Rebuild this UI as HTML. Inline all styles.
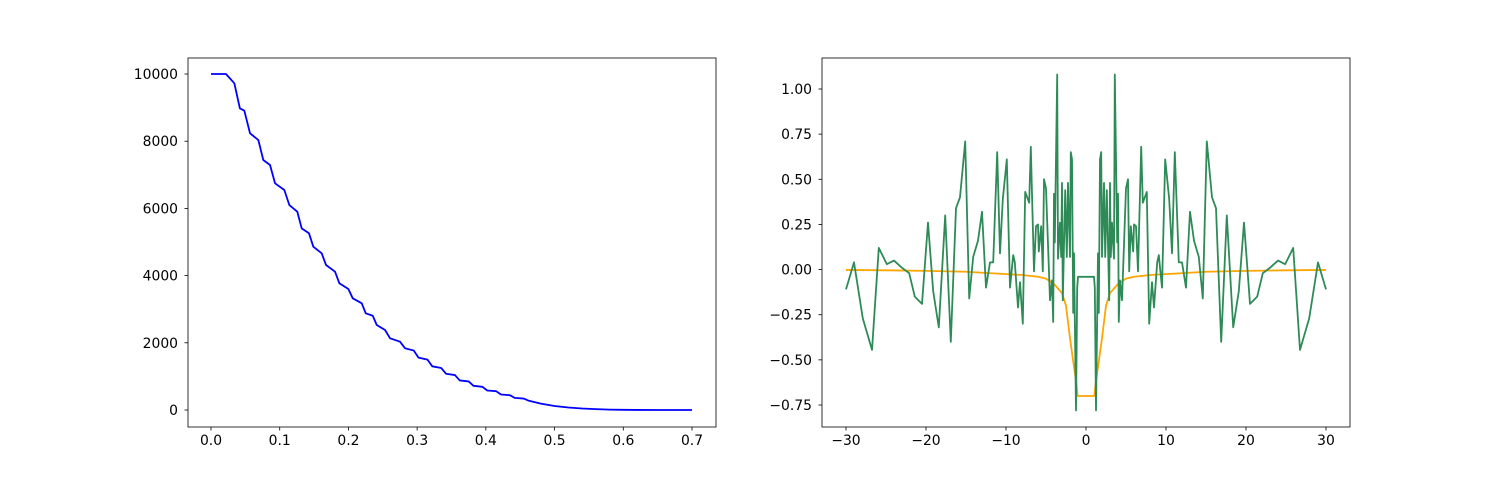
<!DOCTYPE html>
<html><head><meta charset="utf-8"><style>
body{margin:0;background:#fff}svg{display:block}
text{font-family:"DejaVu Sans","Liberation Sans",sans-serif;font-size:13.9px;fill:#000}
</style></head><body>
<svg id="fig" width="1500" height="480"></svg>
<script>
// Left chart data
const leftX=[0,0.0218,0.034,0.042,0.0485,0.0568,0.0689,0.0761,0.0859,0.0932,0.1067,0.114,0.1256,0.132,0.1426,0.1489,0.1611,0.1674,0.1805,0.1868,0.1999,0.2063,0.2194,0.2252,0.2354,0.2412,0.2533,0.2606,0.2751,0.2824,0.295,0.302,0.315,0.322,0.335,0.342,0.355,0.362,0.375,0.382,0.395,0.402,0.415,0.422,0.435,0.442,0.455,0.462,0.48,0.5,0.52,0.54,0.56,0.58,0.6,0.62,0.65,0.7];
const leftY=[10000,10000,9723,8979,8907,8235,8035,7440,7291,6747,6547,6101,5901,5407,5259,4860,4663,4315,4116,3771,3601,3324,3175,2878,2806,2530,2381,2134,2033,1836,1770,1560,1500,1300,1250,1080,1040,880,850,720,690,580,560,460,440,360,340,280,190,120,75,45,25,12,5,2,0,0];
const leftXTicks=[0,0.1,0.2,0.3,0.4,0.5,0.6,0.7];
const leftYTicks=[0,2000,4000,6000,8000,10000];
// Right chart data (left half; mirrored for right half)
const greenXHalf=[-30,-29,-27.9,-26.75,-25.9,-24.9,-24,-23,-22.1,-21.4,-20.5,-19.75,-19.1,-18.4,-17.6,-16.9,-16.25,-15.75,-15.1,-14.6,-14.1,-13.5,-13,-12.5,-12,-11.6,-11.1,-10.75,-10.4,-9.9,-9.5,-9.1,-8.9,-8.5,-8.25,-7.9,-7.6,-7.1,-6.9,-6.5,-6.25,-6,-5.9,-5.6,-5.4,-5.25,-5,-4.5,-4.25,-4.1,-4,-3.9,-3.6,-3.5,-3.25,-3.1,-3,-2.9,-2.6,-2.4,-2.25,-2,-1.9,-1.75,-1.6,-1.5,-1.25,-1.1,-1];
const greenYHalf=[-0.11,0.04,-0.27,-0.445,0.12,0.03,0.05,0.01,-0.02,-0.15,-0.19,0.26,-0.12,-0.32,0.30,-0.40,0.34,0.40,0.71,-0.16,0.07,0.16,0.32,-0.10,0.04,0.04,0.65,0.09,0.39,0.61,-0.10,0.08,0.04,-0.21,-0.07,-0.30,0.43,0.37,0.68,-0.01,0.24,0.25,0.10,0.24,-0.01,0.50,0.45,-0.17,-0.06,-0.29,0.42,0.15,1.08,0.06,0.26,0.07,0.48,-0.17,0.44,0.07,0.48,0.07,0.65,0.61,-0.24,0.09,-0.78,-0.10,-0.04];
const orangeXHalf=[-30,-25,-20,-15,-10,-8,-6,-5,-4,-3,-2.5,-2,-1.5,-1.2,-1.05,-1];
const orangeYHalf=[-0.002,-0.004,-0.007,-0.012,-0.025,-0.03,-0.04,-0.05,-0.08,-0.13,-0.2,-0.38,-0.54,-0.63,-0.7,-0.7];
const rightXTicks=[-30,-20,-10,0,10,20,30];
const rightYTicks=[-0.75,-0.5,-0.25,0,0.25,0.5,0.75,1.0];
const rightYLabels=["\u22120.75","\u22120.50","\u22120.25","0.00","0.25","0.50","0.75","1.00"];

const NS="http://www.w3.org/2000/svg";
const svg=document.getElementById('fig');
function mk(tag,attrs,parent){const e=document.createElementNS(NS,tag);for(const k in attrs)e.setAttribute(k,attrs[k]);(parent||svg).appendChild(e);return e;}
function lin(d0,d1,p0,p1){return v=>p0+(v-d0)/(d1-d0)*(p1-p0);}
function fmtMinus(s){return s.replace('-','\u2212');}

function axes(name,box,sx,sy,xt,xl,yt,yl){
  const g=mk('g',{});
  
  
  xt.forEach((t,i)=>{const x=sx(t);
    const l=mk('line',{x1:x,x2:x,y1:box.y1,y2:box.y1+3.5,stroke:'#000','stroke-width':0.8},g);
    
    const tx=mk('text',{x:x,y:box.y1+18,'text-anchor':'middle'},g);tx.textContent=xl[i];
    });
  yt.forEach((t,i)=>{const y=sy(t);
    const l=mk('line',{x1:box.x0-3.5,x2:box.x0,y1:y,y2:y,stroke:'#000','stroke-width':0.8},g);
    
    const tx=mk('text',{x:box.x0-10,y:y+5,'text-anchor':'end'},g);tx.textContent=yl[i];
    });
  return g;
}
function frame(g,box){const r=mk('rect',{x:box.x0,y:box.y0,width:box.x1-box.x0,height:box.y1-box.y0,fill:'none',stroke:'#000','stroke-width':0.8},g);
  }
function line(g,xs,ys,sx,sy,color,name){
  const p=mk('polyline',{points:xs.map((x,i)=>sx(x).toFixed(2)+','+sy(ys[i]).toFixed(2)).join(' '),fill:'none',stroke:color,'stroke-width':1.8,'stroke-linejoin':'round'},g);
  }

// Left
const LB={x0:188,x1:716,y0:58,y1:427};
const lsx=lin(0,0.7,211,692), lsy=lin(0,10000,410,74);
const gl=axes('left-chart',LB,lsx,lsy,leftXTicks,leftXTicks.map(v=>v.toFixed(1)),leftYTicks,leftYTicks.map(String));
line(gl,leftX,leftY,lsx,lsy,'#0000ff','blue-line');
frame(gl,LB);

// Right
const RB={x0:822,x1:1350,y0:58,y1:427};
const rsx=lin(-30,30,846,1326), rsy=lin(-0.75,1.0,405,89);
const gr=axes('right-chart',RB,rsx,rsy,rightXTicks,rightXTicks.map(v=>fmtMinus(String(v))),rightYTicks,rightYLabels);
const oX=orangeXHalf.concat(orangeXHalf.slice().reverse().map(v=>-v));
const oY=orangeYHalf.concat(orangeYHalf.slice().reverse());
line(gr,oX,oY,rsx,rsy,'#ffa500','orange-line');
const gX=greenXHalf.concat(greenXHalf.slice().reverse().map(v=>-v));
const gY=greenYHalf.concat(greenYHalf.slice().reverse());
line(gr,gX,gY,rsx,rsy,'#2e8b57','green-line');
frame(gr,RB);
</script>
</body></html>
